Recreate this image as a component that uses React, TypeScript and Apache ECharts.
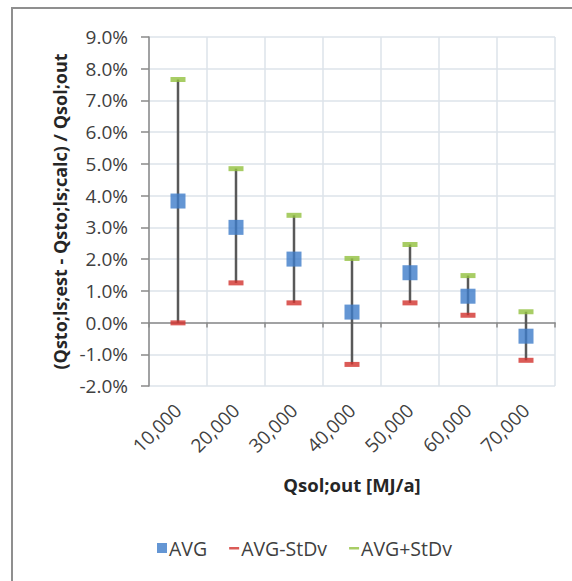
import React, { useEffect, useRef } from "react";
import * as echarts from "echarts";

const categories = ["10,000", "20,000", "30,000", "40,000", "50,000", "60,000", "70,000"];
const avgValues = [3.83, 3.0, 2.0, 0.33, 1.57, 0.83, -0.43];
const lowerValues = [-0.01, 1.25, 0.62, -1.32, 0.62, 0.23, -1.19];
const upperValues = [7.66, 4.85, 3.38, 2.02, 2.46, 1.48, 0.34];
const seriesNames = ["AVG", "AVG-StDv", "AVG+StDv"];
const yAxisTitle = "(Qsto;ls;est - Qsto;ls;calc) / Qsol;out";
const xAxisTitle = "Qsol;out [MJ/a]";

const FONT = "'Open Sans', sans-serif";
const dashIcon = "path://M0,0 M0,4 L10,4 L10,6.5 L0,6.5 Z M10,10";

export default function App() {
  const ref = useRef<HTMLDivElement>(null);
  useEffect(() => {
    if (!ref.current) return;
    const chart = echarts.init(ref.current, null, { renderer: "svg" });
    const option: any = {
      animation: false,
      backgroundColor: "#ffffff",
      textStyle: { fontFamily: FONT },
      graphic: [
        {
          type: "rect",
          shape: { x: 12, y: 8, width: 620, height: 620 },
          style: { fill: "none", stroke: "#8f8f8f", lineWidth: 2 },
          silent: true,
        },
      ],
      grid: { left: 149, right: 17, top: 37, bottom: 195 },
      legend: {
        data: [
          { name: seriesNames[0], icon: "rect" },
          { name: seriesNames[1], icon: dashIcon },
          { name: seriesNames[2], icon: dashIcon },
        ],
        left: 157,
        top: 538,
        padding: 0,
        itemWidth: 10,
        itemHeight: 10,
        itemGap: 22,
        textStyle: { fontFamily: FONT, fontSize: 19.5, color: "#404040", padding: [0, 0, 0, -3] },
      },
      xAxis: [
        {
          type: "category",
          data: categories,
          boundaryGap: true,
          axisLine: { show: false, onZero: false },
          axisTick: { show: false },
          axisLabel: {
            rotate: 45,
            interval: 0,
            margin: 21,
            fontFamily: FONT,
            fontSize: 19,
            color: "#404040",
          },
          splitLine: { show: true, interval: 0, lineStyle: { color: "#dde3ea", width: 1.5 } },
          name: xAxisTitle,
          nameLocation: "middle",
          nameGap: 89,
          nameTextStyle: { fontFamily: FONT, fontSize: 18.5, fontWeight: "bold", color: "#262626" },
        },
        {
          type: "category",
          data: categories,
          boundaryGap: true,
          position: "bottom",
          axisLine: { show: true, onZero: true, lineStyle: { color: "#8a8a8a", width: 1.5 } },
          axisTick: { show: true, interval: 0, length: 5, lineStyle: { color: "#8a8a8a", width: 1.5 } },
          axisLabel: { show: false },
          splitLine: { show: false },
        },
      ],
      yAxis: {
        type: "value",
        min: -2,
        max: 9,
        interval: 1,
        axisLine: { show: true, lineStyle: { color: "#8a8a8a", width: 1.5 } },
        axisTick: { show: true, length: 8, lineStyle: { color: "#8a8a8a", width: 1.5 } },
        axisLabel: {
          margin: 21,
          fontFamily: FONT,
          fontSize: 19,
          color: "#404040",
          formatter: (v: number) => v.toFixed(1) + "%",
        },
        splitLine: { show: true, lineStyle: { color: "#dde3ea", width: 1.5 } },
        name: yAxisTitle,
        nameLocation: "middle",
        nameRotate: 90,
        nameGap: 78,
        nameTextStyle: { fontFamily: FONT, fontSize: 18, fontWeight: "bold", color: "#262626" },
      },
      series: [
        {
          type: "custom",
          name: "errorbar",
          xAxisIndex: 0,
          z: 2,
          data: categories.map((_, i) => [i, lowerValues[i], upperValues[i]]),
          encode: { x: 0, y: [1, 2] },
          renderItem: (_params: any, api: any) => {
            const lo = api.coord([api.value(0), api.value(1)]);
            const hi = api.coord([api.value(0), api.value(2)]);
            return {
              type: "line",
              shape: { x1: lo[0], y1: lo[1], x2: hi[0], y2: hi[1] },
              style: { stroke: "#595959", lineWidth: 2.5 },
            };
          },
        },
        {
          type: "scatter",
          name: seriesNames[1],
          z: 3,
          symbol: "rect",
          symbolSize: [15, 5],
          itemStyle: { color: "#d2322d" },
          data: lowerValues,
        },
        {
          type: "scatter",
          name: seriesNames[2],
          z: 3,
          symbol: "rect",
          symbolSize: [15, 5],
          itemStyle: { color: "#92c03f" },
          data: upperValues,
        },
        {
          type: "scatter",
          name: seriesNames[0],
          z: 4,
          symbol: "rect",
          symbolSize: 15,
          itemStyle: { color: "#3d7cc9" },
          data: avgValues,
        },
      ],
    };
    chart.setOption(option);
    return () => chart.dispose();
  }, []);
  return (
    <div
      ref={ref}
      style={{ position: "fixed", left: 0, top: 0, width: 572, height: 581 }}
    />
  );
}
